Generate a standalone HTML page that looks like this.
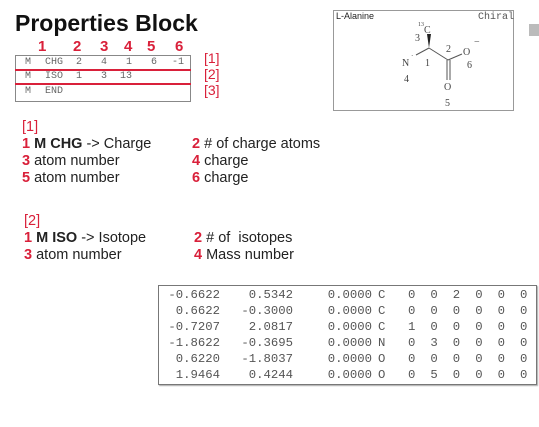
<!DOCTYPE html>
<html><head><meta charset="utf-8"><style>
body{margin:0;width:539px;height:427px;background:#fff;position:relative;overflow:hidden;font-family:"Liberation Sans",sans-serif}
.a{position:absolute;white-space:pre}
.r{color:#d9203a;font-weight:bold}
.m{font-family:"Liberation Mono",monospace;color:#666}
.t{font-size:14.5px;color:#222}
.p{position:absolute;font-family:"Liberation Mono",monospace;color:#666;font-size:10px}
.row{position:absolute;left:0;height:16px;font-family:"Liberation Mono",monospace;font-size:12.3px;color:#555}
.row span{position:absolute;top:0;line-height:16px}
</style></head><body>
<div class="a" style="left:15px;top:10px;font-size:23px;font-weight:bold;color:#111">Properties Block</div>
<div>
<div class="a r" style="left:38px;top:38px;font-size:15px">1</div>
<div class="a r" style="left:73px;top:38px;font-size:15px">2</div>
<div class="a r" style="left:100px;top:38px;font-size:15px">3</div>
<div class="a r" style="left:124px;top:38px;font-size:15px">4</div>
<div class="a r" style="left:147px;top:38px;font-size:15px">5</div>
<div class="a r" style="left:175px;top:38px;font-size:15px">6</div>
</div>
<div class="a" style="left:15px;top:55px;width:174px;height:45px;border:1px solid #888"></div>
<div class="a" style="left:15px;top:69px;width:176px;height:2px;background:#d9203a"></div>
<div class="a" style="left:15px;top:83px;width:176px;height:2px;background:#d9203a"></div>
<div>
<span class="p" style="left:25px;top:57px">M</span><span class="p" style="left:45px;top:57px">CHG</span><span class="p" style="left:76px;top:57px">2</span><span class="p" style="left:101px;top:57px">4</span><span class="p" style="left:126px;top:57px">1</span><span class="p" style="left:151px;top:57px">6</span><span class="p" style="left:172px;top:57px">-1</span>
</div>
<div>
<span class="p" style="left:25px;top:71px">M</span><span class="p" style="left:45px;top:71px">ISO</span><span class="p" style="left:76px;top:71px">1</span><span class="p" style="left:101px;top:71px">3</span><span class="p" style="left:120px;top:71px">13</span>
</div>
<div>
<span class="p" style="left:25px;top:86px">M</span><span class="p" style="left:45px;top:86px">END</span>
</div>
<div class="a r" style="left:204px;top:50px;font-size:14px;font-weight:normal">[1]</div>
<div class="a r" style="left:204px;top:66px;font-size:14px;font-weight:normal">[2]</div>
<div class="a r" style="left:204px;top:82px;font-size:14px;font-weight:normal">[3]</div>

<div class="a" style="left:333px;top:10px;width:179px;height:99px;border:1px solid #999"></div>
<div class="a" style="left:336px;top:11px;font-size:9px;color:#222">L-Alanine</div>
<div class="a m" style="left:478px;top:12px;font-size:10px;color:#555">Chiral</div>
<svg class="a" style="left:333px;top:10px" width="180" height="100" viewBox="333 10 180 100">
<polygon points="429,48 427,34 431,34" fill="#222"/>
<line x1="429" y1="48" x2="416" y2="55" stroke="#555"/>
<line x1="429" y1="48" x2="448" y2="60" stroke="#555"/>
<line x1="448" y1="60" x2="462" y2="54" stroke="#555"/>
<line x1="447" y1="60" x2="447" y2="80" stroke="#555"/>
<line x1="450" y1="60" x2="450" y2="80" stroke="#555"/>
<g font-family="Liberation Serif" font-size="10" fill="#444">
<text x="424" y="33">C</text><text x="418" y="26" font-size="6">13</text>
<text x="415" y="41">3</text><text x="402" y="66">N</text><text x="411" y="58" font-size="7">·</text>
<text x="404" y="82">4</text><text x="425" y="66">1</text><text x="446" y="52">2</text>
<text x="463" y="55">O</text><text x="474" y="45">−</text><text x="467" y="68">6</text>
<text x="444" y="90">O</text><text x="445" y="106">5</text>
</g></svg>
<div class="a" style="left:529px;top:24px;width:10px;height:12px;background:#bbb"></div>

<div class="a t" style="left:22px;top:119px;line-height:17px"><span class="r" style="font-weight:normal">[1]</span>
<span class="r">1</span> <b>M CHG</b> -&gt; Charge
<span class="r">3</span> atom number
<span class="r">5</span> atom number</div>
<div class="a t" style="left:192px;top:136px;line-height:17px"><span class="r">2</span> # of charge atoms
<span class="r">4</span> charge
<span class="r">6</span> charge</div>
<div class="a t" style="left:24px;top:213px;line-height:17px"><span class="r" style="font-weight:normal">[2]</span>
<span class="r">1</span> <b>M ISO</b> -&gt; Isotope
<span class="r">3</span> atom number</div>
<div class="a t" style="left:194px;top:230px;line-height:17px"><span class="r">2</span> # of  isotopes
<span class="r">4</span> Mass number</div>

<div class="a" style="left:158px;top:285px;width:377px;height:98px;border:1px solid #777;box-shadow:1px 1px 1px #aaa"></div>
<div id="rows" class="a" style="left:0;top:287px"></div>
<script>
const xs=["-0.6622","0.6622","-0.7207","-1.8622","0.6220","1.9464"];
const ys=["0.5342","-0.3000","2.0817","-0.3695","-1.8037","0.4244"];
const els=["C","C","C","N","O","O"];
const flags=[[0,0,2,0,0,0],[0,0,0,0,0,0],[1,0,0,0,0,0],[0,3,0,0,0,0],[0,0,0,0,0,0],[0,5,0,0,0,0]];
const host=document.getElementById('rows');
xs.forEach((x,i)=>{
  const r=document.createElement('div');r.className='row';r.style.top=(i*16)+'px';
  
  
  let h='<span style="right:-220px;text-align:right">'+x+'</span>';
  h+='<span style="right:-293px">'+ys[i]+'</span>';
  h+='<span style="right:-372px">0.0000</span>';
  h+='<span style="left:378px">'+els[i]+'</span>';
  flags[i].forEach((f,j)=>{h+='<span style="left:'+(408+j*22.4)+'px">'+f+'</span>';});
  r.innerHTML=h;host.appendChild(r);
});
</script>
</body></html>
